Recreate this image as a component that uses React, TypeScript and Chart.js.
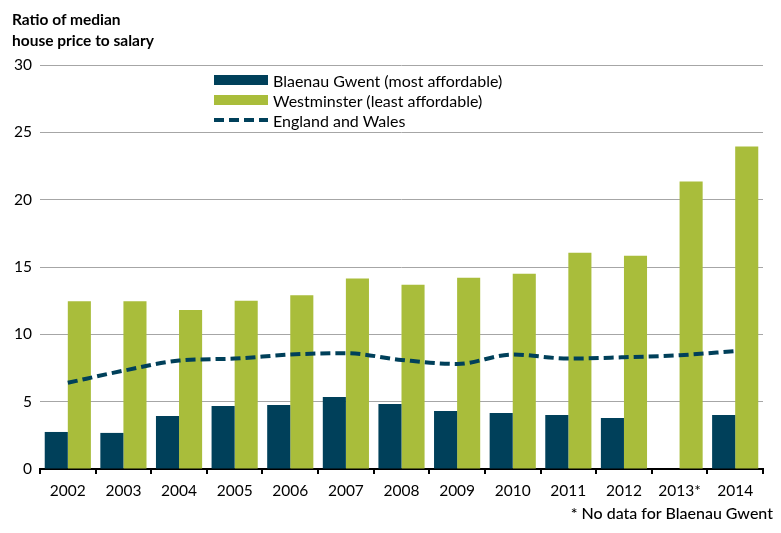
import React, { useEffect, useRef } from 'react';
import { Chart, registerables } from 'chart.js';
Chart.register(...registerables);

const years = ['2002', '2003', '2004', '2005', '2006', '2007', '2008', '2009', '2010', '2011', '2012', '2013*', '2014'];
const blaenauGwent = [2.75, 2.68, 3.94, 4.68, 4.76, 5.35, 4.83, 4.31, 4.16, 4.01, 3.79, null, 4.01];
const westminster = [12.45, 12.45, 11.8, 12.5, 12.9, 14.15, 13.68, 14.2, 14.5, 16.06, 15.84, 21.34, 23.94];
const englandWales = [6.4, 7.3, 8.05, 8.2, 8.5, 8.6, 8.1, 7.8, 8.5, 8.2, 8.3, 8.45, 8.75];
const yTicks = [0, 5, 10, 15, 20, 25, 30];

const DARK = '#00405A';
const GREEN = '#A9BD3B';
const FONT = 'Lato, "Open Sans", sans-serif';

export default function App() {
  const ref = useRef<HTMLCanvasElement>(null);
  useEffect(() => {
    const chart = new Chart(ref.current!, {
      type: 'bar',
      data: {
        labels: years,
        datasets: [
          {
            type: 'line',
            label: 'England and Wales',
            data: englandWales,
            borderColor: DARK,
            borderWidth: 4,
            borderDash: [10, 5],
            pointRadius: 0,
            tension: 0.4,
            cubicInterpolationMode: 'monotone',
            fill: false,
            order: 0,
          } as any,
          {
            label: 'Blaenau Gwent (most affordable)',
            data: blaenauGwent,
            backgroundColor: DARK,
            categoryPercentage: 0.83,
            barPercentage: 1,
            order: 1,
          },
          {
            label: 'Westminster (least affordable)',
            data: westminster,
            backgroundColor: GREEN,
            categoryPercentage: 0.83,
            barPercentage: 1,
            order: 1,
          },
        ],
      },
      options: {
        animation: false,
        responsive: false,
        maintainAspectRatio: false,
        layout: { padding: { top: 65, right: 18, bottom: 0, left: 0 } },
        plugins: { legend: { display: false }, tooltip: { enabled: false } },
        scales: {
          x: {
            grid: { drawOnChartArea: false, drawTicks: true, tickLength: 5, color: '#000', lineWidth: 2, offset: true },
            border: { display: true, color: '#000', width: 2 },
            ticks: { color: '#000', font: { family: FONT, size: 15.5 }, padding: 8, maxRotation: 0 },
            afterFit: (s: any) => { s.height = 64; },
          },
          y: {
            min: 0,
            max: 30,
            afterBuildTicks: (s: any) => { s.ticks = yTicks.map((v) => ({ value: v })); },
            grid: { color: '#A6A6A6', lineWidth: 1, drawTicks: false },
            border: { display: false },
            ticks: { color: '#000', font: { family: FONT, size: 15.5 }, padding: 8 },
            afterFit: (s: any) => { s.width = 40; },
          },
        },
      },
    });
    return () => chart.destroy();
  }, []);

  const legendText: React.CSSProperties = { fontFamily: FONT, fontSize: 16, color: '#000', marginLeft: 5, whiteSpace: 'nowrap' };
  const row: React.CSSProperties = { display: 'flex', alignItems: 'center', height: 20 };

  return (
    <div style={{ position: 'absolute', left: 0, top: 0, width: 781, height: 533, background: '#fff' }}>
      <canvas ref={ref} width={781} height={533} style={{ position: 'absolute', left: 0, top: 0 }} />
      <div style={{ position: 'absolute', left: 12, top: 9, fontFamily: FONT, fontSize: 15.5, fontWeight: 700, lineHeight: '21px', color: '#000' }}>
        Ratio of median<br />house price to salary
      </div>
      <div style={{ position: 'absolute', left: 214, top: 70 }}>
        <div style={row}>
          <div style={{ width: 54, height: 10, background: DARK }} />
          <span style={legendText}>Blaenau Gwent (most affordable)</span>
        </div>
        <div style={row}>
          <div style={{ width: 54, height: 10, background: GREEN }} />
          <span style={legendText}>Westminster (least affordable)</span>
        </div>
        <div style={row}>
          <svg width={54} height={6}>
            <line x1={0} y1={3} x2={54} y2={3} stroke={DARK} strokeWidth={4} strokeDasharray="10 5" />
          </svg>
          <span style={legendText}>England and Wales</span>
        </div>
      </div>
      <div style={{ position: 'absolute', right: 8, top: 503, fontFamily: FONT, fontSize: 16, fontWeight: 500, color: '#000', whiteSpace: 'nowrap' }}>
        * No data for Blaenau Gwent
      </div>
    </div>
  );
}
